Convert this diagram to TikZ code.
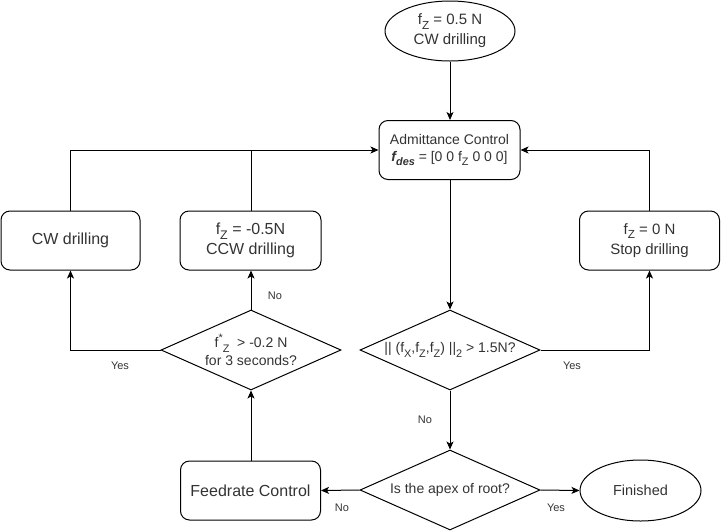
\documentclass[tikz,border=0pt]{standalone}
\usepackage{fontspec}
\usepackage{graphicx}
\setmainfont{Liberation Sans}
\usetikzlibrary{shapes.geometric,arrows.meta}
\newcommand\sbs[1]{\raisebox{-0.3em}{\scalebox{0.78}{#1}}}
\newcommand\sps[1]{\raisebox{0.45em}{\scalebox{0.78}{#1}}}
\begin{document}
\begin{tikzpicture}[x=1pt,y=-1pt,
  every node/.style={text=black!80},
  txt/.style={font=\fontsize{14}{18}\selectfont, align=center},
  big/.style={font=\fontsize{16}{20}\selectfont},
  mid/.style={font=\fontsize{15}{20}\selectfont},
  box/.style={draw=black, line width=1pt, rounded corners=9pt, minimum width=139pt, minimum height=59pt, txt, inner sep=1pt},
  oval/.style={draw=black, line width=1pt, ellipse, minimum width=130pt, minimum height=60pt, txt, inner sep=0pt},
  dia/.style={draw=black, line width=1pt, diamond, minimum width=180pt, minimum height=80pt, inner sep=0pt},
  lbl/.style={font=\fontsize{11}{13}\selectfont, inner sep=0pt},
  cen/.style={txt, inner sep=0pt},
  arr/.style={draw=black, line width=1pt, -{Stealth[length=8pt,width=7pt,inset=2pt]}},
  ln/.style={draw=black, line width=1pt}]
\useasboundingbox (0,0) rectangle (721,531);

\node[oval, mid] (top) at (450,31) {f\sbs{Z} = 0.5 N\\CW drilling};
\node[box, minimum width=141pt, font=\fontsize{14}{17}\selectfont] (adm) at (449.5,150) {Admittance Control\\\textbf{\textit{f\sbs{des}}} = [0 0 f\sbs{Z} 0 0 0]};
\node[box, big] (cw) at (70.5,240.5) {CW drilling};
\node[box, big, minimum width=141pt] (ccw) at (250.5,240.5) {f\sbs{Z} = -0.5N\\CCW drilling};
\node[box, mid, minimum width=140pt] (stop) at (649.5,240.5) {f\sbs{Z} = 0 N\\Stop drilling};
\node[dia, label={[cen]center:{|| (f\sbs{X},f\sbs{Z},f\sbs{Z}) ||\sbs{2} > 1.5N?}}] (d1) at (450,350) {};
\node[dia, label={[cen]center:{f\sps{*}\sbs{Z}\ \ > -0.2 N\\for 3 seconds?}}] (d3) at (251,350) {};
\node[dia, label={[cen]center:{Is the apex of root?}}] (d2) at (450,490) {};
\node[box, big, minimum width=140pt] (feed) at (250.5,490.5) {Feedrate Control};
\node[oval, font=\fontsize{14.5}{17}\selectfont, minimum width=121pt, minimum height=61pt] (fin) at (640.5,490.5) {Finished};

\draw[arr] (top.south) -- (adm.north -| top.south);
\draw[arr] (adm.south -| d1.north) -- (d1.north);
\draw[arr] (d1.east) -| (stop.south);
\draw[arr] (stop.north) |- (adm.east);
\draw[arr] (d1.south) -- (d2.north);
\draw[arr] (d2.west) -- (feed.east);
\draw[arr] (d2.east) -- (fin.west);
\draw[arr] (feed.north -| d3.south) -- (d3.south);
\draw[arr] (d3.north) -- (ccw.south -| d3.north);
\draw[arr] (d3.west) -| (cw.south);
\draw[arr] (cw.north) |- (adm.west);
\draw[ln] (ccw.north -| d3.north) -- (adm.west -| d3.north);

\node[lbl] (l1) at (275,296) {No};
\node[lbl] (l2) at (120,366) {Yes};
\node[lbl] (l3) at (572,366) {Yes};
\node[lbl] (l4) at (425,420) {No};
\node[lbl] (l5) at (342,508) {No};
\node[lbl] (l6) at (556,508) {Yes};
\end{tikzpicture}
\end{document}
